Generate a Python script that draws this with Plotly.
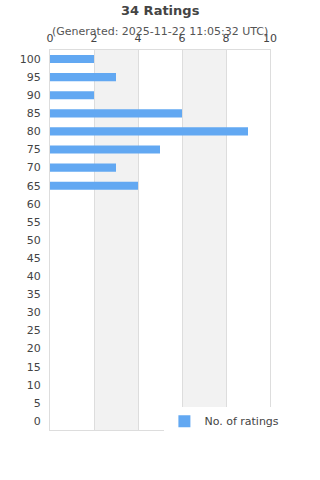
import plotly.graph_objects as go

categories = [str(v) for v in range(0, 101, 5)]
counts = [0, 0, 0, 0, 0, 0, 0, 0, 0, 0, 0, 0, 0, 4, 3, 5, 9, 6, 2, 3, 2]
x_ticks = [0, 2, 4, 6, 8, 10]
title = "34 Ratings"
subtitle = "(Generated: 2025-11-22 11:05:32 UTC)"
series_name = "No. of ratings"

fig = go.Figure()
fig.add_trace(go.Bar(
    y=categories, x=counts, orientation="h", name=series_name,
    marker=dict(color="#62a8f2", line=dict(width=0)),
    width=0.45, showlegend=True,
))

shapes = []
for i in range(1, len(x_ticks) - 1, 2):
    shapes.append(dict(type="rect", xref="x", yref="paper",
                       x0=x_ticks[i], x1=x_ticks[i + 1], y0=0, y1=1,
                       fillcolor="#f2f2f2", line=dict(width=0), layer="below"))

fig.update_layout(
    width=320, height=480,
    margin=dict(l=50, r=50, t=50, b=50),
    paper_bgcolor="white", plot_bgcolor="white",
    font=dict(family="DejaVu Sans", size=11, color="#444"),
    shapes=shapes,
    annotations=[
        dict(text="<b>" + title + "</b>", x=0.5, y=1, xref="paper", yref="paper",
             yanchor="bottom", yshift=30, showarrow=False,
             font=dict(size=13, color="#444")),
        dict(text=subtitle, x=0.5, y=1, xref="paper", yref="paper",
             yanchor="bottom", yshift=10, showarrow=False,
             font=dict(size=11, color="#555")),
    ],
    xaxis=dict(side="top", range=[0, 10], tickvals=x_ticks, showgrid=True,
               gridcolor="#dddddd", showline=True, mirror=True, linecolor="#dddddd",
               zeroline=False, ticks="", ticklabelstandoff=3,
               tickfont=dict(size=11, color="#444")),
    yaxis=dict(categoryorder="array", categoryarray=categories, showgrid=False,
               showline=True, mirror=True, linecolor="#dddddd", ticks="outside",
               ticklen=6, tickcolor="white", tickfont=dict(size=11, color="#444")),
    legend=dict(x=0.52, y=-0.015, xanchor="left", yanchor="bottom", bgcolor="white",
                font=dict(size=11, color="#444"), itemwidth=30),
    bargap=0.55,
)

fig.write_html("out.html")
